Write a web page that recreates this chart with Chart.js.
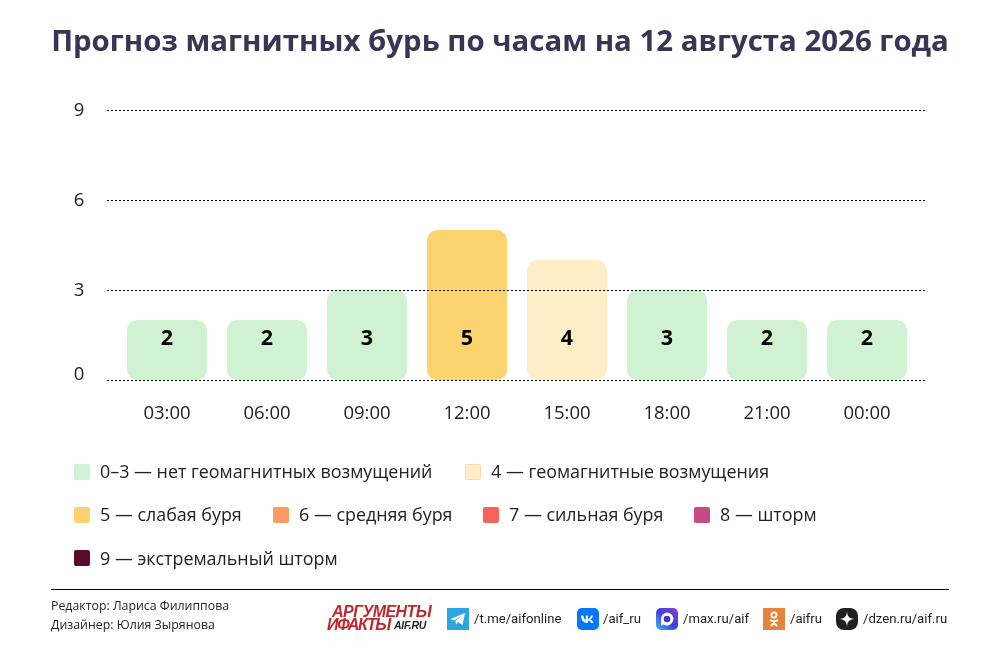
<!DOCTYPE html>
<html>
<head>
    <meta charset="utf-8">
    <title>Прогноз магнитных бурь</title>
    <script src="https://cdn.jsdelivr.net/npm/chart.js@4/dist/chart.umd.min.js"></script>
    <style>
        html, body { margin: 0; padding: 0; background: #fff; }
        #page { position: relative; width: 1000px; height: 664px; overflow: hidden; font-family: "Open Sans", sans-serif; }
        #chart { position: absolute; left: 0; top: 0; }
        h1 { position: absolute; left: 0; width: 1000px; top: 19px; margin: 0; text-align: center; font-size: 29.4px; line-height: 42px; font-weight: 700; color: #383654; white-space: nowrap; }
        .key { position: absolute; width: 16px; height: 16px; border-radius: 2px; box-sizing: border-box; }
        .keytext { position: absolute; font-size: 17.9px; line-height: 24px; color: #222; white-space: nowrap; }
        #rule { position: absolute; left: 51px; top: 589px; width: 898px; height: 1px; background: #000; }
        .credit { position: absolute; left: 51px; font-size: 12.35px; line-height: 18px; color: #222; white-space: nowrap; }
        .social { position: absolute; top: 609px; font-family: Roboto, sans-serif; font-size: 13.15px; line-height: 20px; color: #222; white-space: nowrap; }
        .icon { position: absolute; top: 608px; width: 22px; height: 22px; }
        .logo { position: absolute; font-family: "Liberation Sans", sans-serif; font-weight: 700; font-style: italic; white-space: nowrap; letter-spacing: -1px; }
    </style>
</head>
<body>
<div id="page">
    <canvas id="chart" width="1000" height="664"></canvas>
    <h1>Прогноз магнитных бурь по часам на 12 августа 2026 года</h1>
    <div id="legend"></div>
    <div id="rule"></div>
    <div class="credit" style="top:597px">Редактор: Лариса Филиппова</div>
    <div class="credit" style="top:616px">Дизайнер: Юлия Зырянова</div>

    <div class="logo" style="left:332px;top:603px;font-size:16px;line-height:18px;color:#c0272d;letter-spacing:-.55px">АРГУМЕНТЫ</div>
    <div class="logo" style="left:327px;top:616px;font-size:16px;line-height:18px;color:#c0272d;letter-spacing:-1.3px">ИФАКТЫ</div>
    <div class="logo" style="left:394px;top:618px;font-size:10.5px;line-height:14px;color:#222;letter-spacing:-.3px">AIF.RU</div>

    <svg class="icon" style="left:447px" viewBox="0 0 22 22"><rect width="22" height="22" fill="#2ca5e0"/><path d="M3.5 11 L18 5 L15.5 17 L11 14 L9 16.5 L8.5 13 L15 7.5 L7 12.5 Z" fill="#fff"/></svg>
    <div class="social" style="left:474px">/t.me/aifonline</div>

    <svg class="icon" style="left:577px" viewBox="0 0 22 22"><rect width="22" height="22" rx="5" fill="#0077ff"/><path d="M4 7.5 H6.4 C6.6 10 7.6 11.4 8.8 11.8 V7.5 H11 V11 C12.2 10.8 13.4 9.4 13.9 7.5 H16.1 C15.7 9.4 14.5 10.8 13.4 11.5 C14.6 12 15.9 13.2 16.6 15 H14.2 C13.6 13.6 12.4 12.5 11 12.4 V15 H10.3 C6.6 15 4.2 12.3 4 7.5 Z" fill="#fff"/></svg>
    <div class="social" style="left:603px">/aif_ru</div>

    <svg class="icon" style="left:656px" viewBox="0 0 22 22">
        <defs><linearGradient id="mx" x1="0" y1="1" x2="1" y2="0"><stop offset="0" stop-color="#45b6f0"/><stop offset=".5" stop-color="#3f3fe0"/><stop offset="1" stop-color="#8a3fd0"/></linearGradient></defs>
        <rect width="22" height="22" rx="5" fill="url(#mx)"/><path d="M11 4.5 A6.5 6.5 0 1 1 7.6 16.6 L5.2 17.4 L5 12 A6.5 6.5 0 0 1 11 4.5 Z" fill="#fff"/><circle cx="11" cy="11" r="3.3" fill="#3a3ad8"/></svg>
    <div class="social" style="left:683px">/max.ru/aif</div>

    <svg class="icon" style="left:763px" viewBox="0 0 22 22"><rect width="22" height="22" fill="#e5853b"/><circle cx="11" cy="7" r="2.6" fill="none" stroke="#fff" stroke-width="1.8"/><path d="M7 12 Q11 14.5 15 12 M11 13.5 V15 M8 18 L11 15 L14 18" fill="none" stroke="#fff" stroke-width="1.8"/></svg>
    <div class="social" style="left:790px">/aifru</div>

    <svg class="icon" style="left:836px" viewBox="0 0 22 22"><rect width="22" height="22" rx="8" fill="#202022"/><path d="M11 3.5 C11.4 8.5 13.5 10.6 18.5 11 C13.5 11.4 11.4 13.5 11 18.5 C10.6 13.5 8.5 11.4 3.5 11 C8.5 10.6 10.6 8.5 11 3.5 Z" fill="#fff"/></svg>
    <div class="social" style="left:863px">/dzen.ru/aif.ru</div>
</div>
<script>
    const hours = ['03:00', '06:00', '09:00', '12:00', '15:00', '18:00', '21:00', '00:00'];
    const kpValues = [2, 2, 3, 5, 4, 3, 2, 2];
    const yTicks = [0, 3, 6, 9];

    const legendLabels = ['0–3 — нет геомагнитных возмущений', '4 — геомагнитные возмущения', '5 — слабая буря', '6 — средняя буря', '7 — сильная буря', '8 — шторм', '9 — экстремальный шторм'];
    const legendColors = ['#d0f2d2', '#feedc7', '#fbd36f', '#fd9b63', '#f7625a', '#c64a88', '#5a0a2e'];
    const legendX = [74, 465, 74, 273, 483, 694, 74];
    const legendY = [472, 472, 515, 515, 515, 515, 558];
    const legendTextY = [471, 471, 514, 514, 514, 514, 558];

    function colorFor(v) {
        if (v <= 3) return legendColors[0];
        return legendColors[v - 3];
    }

    const legend = document.getElementById('legend');
    legendLabels.forEach((text, i) => {
        const key = document.createElement('div');
        key.className = 'key';
        key.style.left = legendX[i] + 'px';
        key.style.top = (legendY[i] - 8) + 'px';
        key.style.background = legendColors[i];
        if (i === 1) key.style.border = '1px solid #f3dca6';
        legend.appendChild(key);
        const label = document.createElement('div');
        label.className = 'keytext';
        label.style.left = (legendX[i] + 26) + 'px';
        label.style.top = (legendTextY[i] - 12) + 'px';
        label.textContent = text;
        legend.appendChild(label);
    });

    // dotted lines run wider than the plot and over the bars, the 0 label sits above its line
    const overlay = {
        id: 'overlay',
        afterDatasetsDraw(chart) {
            const c = chart.ctx, x = chart.scales.x, y = chart.scales.y;
            c.save();
            c.strokeStyle = '#000';
            c.lineWidth = 1;
            c.setLineDash([2, 2]);
            yTicks.forEach(t => {
                const py = Math.round(y.getPixelForValue(t)) + 0.5;
                c.beginPath();
                c.moveTo(107, py);
                c.lineTo(926, py);
                c.stroke();
            });
            c.textAlign = 'center';
            c.textBaseline = 'middle';
            c.fillStyle = '#000';
            c.font = '700 21.5px "Open Sans"';
            kpValues.forEach((v, i) => c.fillText(v, x.getPixelForValue(i), y.getPixelForValue(1.4) + 1));
            c.fillStyle = '#222';
            c.font = '400 18.5px "Open Sans"';
            yTicks.forEach(t => c.fillText(t, 79, y.getPixelForValue(t) + 1 - (t === 0 ? 6 : 0)));
            c.restore();
        }
    };

    new Chart(document.getElementById('chart'), {
        type: 'bar',
        data: {
            labels: hours,
            datasets: [{
                data: kpValues,
                backgroundColor: kpValues.map(colorFor),
                borderRadius: 10,
                borderSkipped: false,
                barPercentage: 0.8,
                categoryPercentage: 1
            }]
        },
        options: {
            responsive: false,
            animation: false,
            layout: { padding: { left: 117, right: 83, top: 110, bottom: 0 } },
            plugins: { legend: { display: false }, tooltip: { enabled: false } },
            scales: {
                x: {
                    grid: { display: false },
                    border: { display: false },
                    afterFit(s) { s.height = 284; },
                    ticks: { color: '#222', font: { family: 'Open Sans', size: 18.5 }, padding: 15, maxRotation: 0 }
                },
                y: {
                    min: 0, max: 9,
                    afterFit(s) { s.width = 0; },
                    grid: { display: false },
                    border: { display: false },
                    ticks: { display: false, stepSize: 3 }
                }
            }
        },
        plugins: [overlay]
    });
</script>
</body>
</html>
